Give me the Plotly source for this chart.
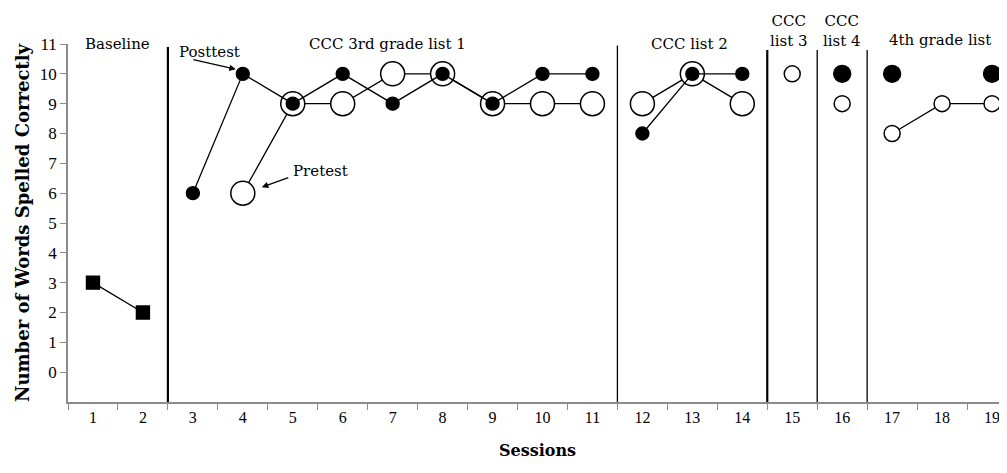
import plotly.graph_objects as go

sessions = list(range(1, 20))
tick_labels = [str(s) for s in sessions]

baseline_x = [1, 2]
baseline_y = [3, 2]

# Posttest (filled circles)
post1_x = [3, 4, 5, 6, 7, 8, 9, 10, 11]
post1_y = [6, 10, 9, 10, 9, 10, 9, 10, 10]
post2_x = [12, 13, 14]
post2_y = [8, 10, 10]
post3_x = [16, 17, 19]
post3_y = [10, 10, 10]

# Pretest (open circles)
pre1_x = [4, 5, 6, 7, 8, 9, 10, 11]
pre1_y = [6, 9, 9, 10, 10, 9, 9, 9]
pre2_x = [12, 13, 14]
pre2_y = [9, 10, 9]
pre3_x = [15]
pre3_y = [10]
pre4_x = [16]
pre4_y = [9]
pre5_x = [17, 18, 19]
pre5_y = [8, 9, 9]

phase_lines = [2.5, 11.5, 14.5, 15.5, 16.5]
phase_widths = [2.2, 1.3, 2.2, 1.3, 1.3]
phase_tops = [10.9, 10.95, 10.8, 10.8, 10.8]

phase_labels = ["Baseline", "CCC 3rd grade list 1", "CCC list 2", "CCC<br>list 3", "CCC<br>list 4", "4th grade list"]
phase_label_x = [1.5, 6.9, 12.95, 14.94, 16.0, 17.96]
phase_label_y = [1.0, 1.0, 1.0, 1.0375, 1.0375, 1.011]  # paper coordinates

SERIF = "DejaVu Serif"
fig = go.Figure()

line = dict(color="black", width=1.3)

def add(x, y, mode, symbol, size, fill, lw=1.4):
    fig.add_trace(go.Scatter(
        x=x, y=y, mode=mode, line=line,
        marker=dict(symbol=symbol, size=size, color=fill,
                    line=dict(color="black", width=lw)),
        showlegend=False, hoverinfo="x+y"))

add(baseline_x, baseline_y, "lines+markers", "square", 13, "black")
add(pre1_x, pre1_y, "lines+markers", "circle", 24, "white", 1.5)
add(pre2_x, pre2_y, "lines+markers", "circle", 24, "white", 1.5)
add(pre3_x, pre3_y, "markers", "circle", 16, "white", 1.5)
add(pre4_x, pre4_y, "markers", "circle", 16, "white", 1.5)
add(pre5_x, pre5_y, "lines+markers", "circle", 16, "white", 1.5)
add(post1_x, post1_y, "lines+markers", "circle", 13, "black")
add(post2_x, post2_y, "lines+markers", "circle", 13, "black")
add(post3_x, post3_y, "markers", "circle", 17, "black")

for px, w, top in zip(phase_lines, phase_widths, phase_tops):
    fig.add_shape(type="line", x0=px, x1=px, y0=-1, y1=top, xref="x", yref="y",
                  line=dict(color="black", width=w))

for t, x, y in zip(phase_labels, phase_label_x, phase_label_y):
    fig.add_annotation(x=x, y=y, text=t, showarrow=False, xref="x", yref="paper",
                       yanchor="middle",
                       font=dict(family=SERIF, size=15, color="black"))

fig.add_annotation(x=3.34, y=10.72, text="Posttest", showarrow=False,
                   font=dict(family=SERIF, size=15, color="black"))
fig.add_annotation(x=3.86, y=10.15, text="", showarrow=True, ax=-44, ay=-10,
                   arrowhead=2, arrowsize=1, arrowwidth=1.3, arrowcolor="black")
fig.add_annotation(x=5.55, y=6.73, text="Pretest", showarrow=False,
                   font=dict(family=SERIF, size=15, color="black"))
fig.add_annotation(x=4.38, y=6.2, text="", showarrow=True, ax=28, ay=-10,
                   arrowhead=2, arrowsize=1, arrowwidth=1.3, arrowcolor="black")

fig.update_layout(
    width=999, height=465,
    margin=dict(l=60, r=0, t=36, b=71, autoexpand=False),
    plot_bgcolor="white", paper_bgcolor="white",
    font=dict(family="Liberation Serif", size=15, color="black"),
    xaxis=dict(range=[0.5, 19.3], tickmode="array", tickvals=sessions, ticktext=tick_labels,
               ticks="", showgrid=False, zeroline=False, showline=True,
               linecolor="#8c8c8c", linewidth=1.5, automargin=False,
               minor=dict(tickmode="array", tickvals=[s + 0.5 for s in range(0, 20)],
                          ticks="outside", ticklen=6, tickcolor="#8c8c8c", tickwidth=1),
               tickfont=dict(family="Liberation Serif", size=16),
               title=dict(text="<b>Sessions</b>", standoff=20,
                          font=dict(family=SERIF, size=16))),
    yaxis=dict(range=[-1, 11], tickmode="array", tickvals=list(range(0, 12)),
               ticks="outside", ticklen=6, tickcolor="#8c8c8c", tickwidth=1,
               showgrid=False, zeroline=False, showline=True,
               linecolor="#8c8c8c", linewidth=1.5, automargin=False,
               tickfont=dict(family="Liberation Serif", size=17),
               title=dict(text="<b>Number of Words Spelled Correctly</b>", standoff=6,
                          font=dict(family=SERIF, size=18))),
)

fig.write_html("out.html")
